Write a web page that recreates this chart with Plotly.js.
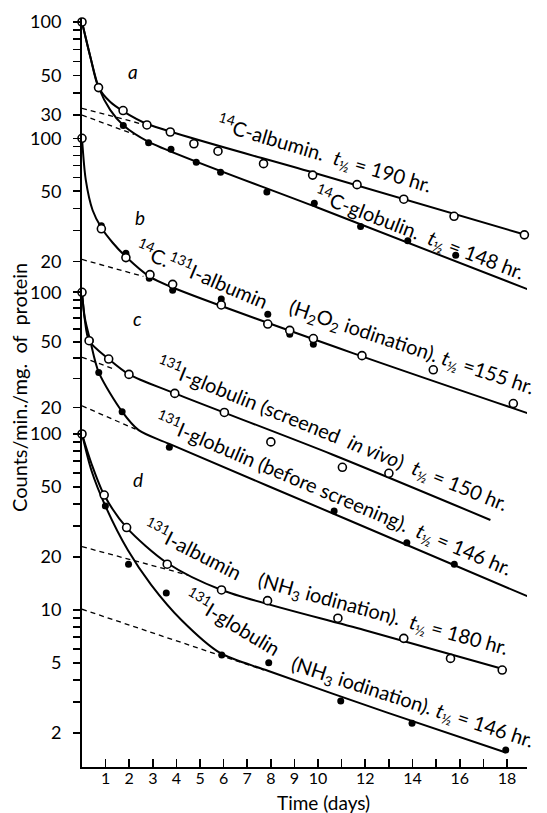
<!DOCTYPE html>
<html><head><meta charset="utf-8">
<script src="https://cdn.plot.ly/plotly-3.0.1.min.js"></script>
<style>html,body{margin:0;padding:0;background:#fff}</style>
</head><body><div id="chart" style="width:547px;height:813px"></div>
<script>
// ---------- DATA ----------
// Panel a: 14C-albumin (open) and 14C-globulin (filled)
const aAlbDays  = [0, 0.7, 1.74, 2.75, 3.74, 4.74, 5.76, 7.69, 9.77, 11.65, 13.63, 15.76, 18.74];
const aAlbVals  = [100, 42.8, 31.8, 26.4, 24.1, 20.7, 18.8, 16.0, 13.8, 12.2, 10.1, 8.1, 6.37];
const aGlobDays = [0, 0.7, 1.75, 2.82, 3.77, 4.84, 5.87, 7.83, 9.84, 11.8, 13.8, 15.83, 18.88];
const aGlobVals = [100, 42.8, 26.2, 21.0, 19.3, 16.3, 14.3, 11.1, 9.6, 7.1, 5.9, 4.89, 3.15];
const aAlbFitDays  = [0, 0.35, 0.7, 1.2, 1.75, 2.75, 10, 18.74];
const aAlbFitVals  = [100, 64, 43, 35.5, 31.5, 26.8, 14.0, 6.4];
const aGlobFitDays = [0, 0.35, 0.7, 1.2, 1.75, 2.8, 10, 18.88];
const aGlobFitVals = [100, 64, 43, 32, 26.3, 21.3, 9.04, 3.15];
const aAlbDashDays = [0, 2.6],  aAlbDashVals = [32.7, 26.6];
const aGlobDashDays = [0, 2.2], aGlobDashVals = [30.0, 23.4];

// Panel b: 14C.131I-albumin (H2O2 iodination)
const bOpenDays   = [0, 0.82, 1.86, 2.88, 3.84, 5.9, 7.87, 8.8, 9.8, 11.86, 14.88, 18.27];
const bOpenVals   = [100, 30.6, 21.0, 16.8, 14.8, 11.3, 8.8, 8.1, 7.28, 5.82, 4.84, 3.11];
const bFilledDays = [0, 0.82, 1.86, 2.85, 3.84, 5.9, 7.87, 8.8, 9.8];
const bFilledVals = [100, 31.9, 22.2, 16.0, 13.7, 12.2, 10.0, 7.7, 6.75];
const bFitDays = [0, 0.16, 0.45, 0.82, 1.3, 1.85, 2.88, 3.84, 11.5, 19.1];
const bFitVals = [100, 58, 39, 31, 25.5, 21.3, 16.3, 14.2, 6.0, 2.68];
const bDashDays = [0, 2.6], bDashVals = [20.5, 16.4];

// Panel c: 131I-globulin screened in vivo (open) and before screening (filled)
const cOpenDays   = [0, 0.3, 1.13, 1.99, 3.93, 6.03, 8.0, 11.03, 13.0];
const cOpenVals   = [100, 50.9, 39.4, 31.8, 24.4, 18.7, 12.4, 8.7, 8.0];
const cFilledDays = [0, 0.35, 0.71, 1.7, 3.7, 10.68, 13.76, 15.77, 18.86];
const cFilledVals = [100, 50.9, 32.7, 18.9, 11.5, 4.73, 3.03, 2.25, 1.44];
const cScrFitDays = [0, 0.12, 0.3, 1.13, 1.99, 3.93, 10.6, 17.3];
const cScrFitVals = [100, 68, 50.9, 39.4, 31.8, 24.4, 10.4, 4.17];
const cBefFitDays = [0, 0.12, 0.35, 0.71, 1.7, 2.4, 3.7, 11.28, 18.86];
const cBefFitVals = [100, 70, 50.9, 32.7, 18.9, 14.6, 12.05, 4.17, 1.44];
const cScrDashDays = [0, 1.35], cScrDashVals = [40.4, 34.3];
const cBefDashDays = [0, 2.27], cBefDashVals = [20.5, 14.8];

// Panel d: 131I-albumin (open) and 131I-globulin (filled), NH3 iodination
const dOpenDays   = [0, 0.94, 1.89, 3.61, 5.91, 7.86, 10.84, 13.63, 15.61, 17.8];
const dOpenVals   = [100, 45.0, 29.4, 18.2, 13.0, 11.3, 8.98, 6.9, 5.31, 4.56];
const dFilledDays = [0, 0.99, 1.97, 3.57, 5.92, 7.91, 10.96, 13.98, 17.95];
const dFilledVals = [100, 39.0, 18.2, 12.5, 5.55, 5.02, 3.04, 2.27, 1.60];
const dAlbFitDays  = [0, 0.4, 0.94, 1.89, 3.61, 5.91, 11.95, 17.98];
const dAlbFitVals  = [100, 68, 45, 29.4, 18.5, 13.0, 7.7, 4.56];
const dGlobFitDays = [0, 0.4, 0.99, 1.94, 2.93, 4.2, 5.85, 7.9, 12.9, 17.95];
const dGlobFitVals = [100, 62, 39, 21.9, 13.9, 8.8, 5.7, 4.5, 2.62, 1.55];
const dAlbDashDays  = [0, 4.49], dAlbDashVals  = [22.9, 15.8];
const dGlobDashDays = [0, 7.7],  dGlobDashVals = [10.1, 4.56];

// Tick values / labels
const xTickVals = [1,2,3,4,5,6,7,8,9,10,11,12,13,14,15,16,17,18];
const xTickText = ['1','2','3','4','5','6','7','8','9','10','','12','','14','','16','','18'];
const aTickVals = [100,90,80,70,60,50,40,30];
const aTickText = ['100','','','','','50','','30'];
const bcTickVals = [100,90,80,70,60,50,40,30,20];
const bcTickText = ['100','','','','','50','','','20'];
const dTickVals = [100,90,80,70,60,50,40,30,20,10,9,8,7,6,5,4,3,2];
const dTickText = ['100','','','','','50','','','20','10','','','','','5','','','2'];

// Text
const labels = {
  a1: "<sup>14</sup>C-albumin.  <i>t</i><sub>½</sub> = 190 hr.",
  a2: "<sup>14</sup>C-globulin.  <i>t</i><sub>½</sub> = 148 hr.",
  b1: "<sup>14</sup>C.<sup>131</sup>I-albumin",
  b2: "(H<sub>2</sub>O<sub>2</sub> iodination). <i>t</i><sub>½</sub> =155 hr.",
  c1: "<sup>131</sup>I-globulin (screened  <i>in vivo</i>)  <i>t</i><sub>½</sub> = 150 hr.",
  c2: "<sup>131</sup>I-globulin (before screening).  <i>t</i><sub>½</sub> = 146 hr.",
  d1: "<sup>131</sup>I-albumin",
  d2: "(NH<sub>3</sub> iodination).  <i>t</i><sub>½</sub> = 180 hr.",
  d3: "<sup>131</sup>I-globulin",
  d4: "(NH<sub>3</sub> iodination). <i>t</i><sub>½</sub> = 146 hr."
};
const yTitle = "Counts/min./mg.\u00a0\u00a0of\u00a0\u00a0protein";
const xTitle = "Time (days)";

// ---------- LAYOUT ----------
const W = 547, H = 813, ML = 82, MR = 20, MT = 10, MB = 46;
const plotW = W - ML - MR, plotH = H - MT - MB, bottomPx = H - MB;
const FONT = "Lato, 'Open Sans', sans-serif";
const LBL = 20;
const fx = px => (px - ML) / plotW;
const fy = py => (bottomPx - py) / plotH;

function yAx(topPx, refPx, scale, tv, tt) {
  return {
    type: 'log', anchor: 'x', domain: [0, fy(topPx)],
    range: [2 - (bottomPx - refPx) / scale, 2 + (refPx - topPx) / scale],
    showline: true, linecolor: '#000', linewidth: 2,
    showgrid: false, zeroline: false,
    tickmode: 'array', tickvals: tv, ticktext: tt,
    ticks: 'outside', ticklen: 7, tickwidth: 1.6, tickcolor: '#000',
    ticklabelstandoff: 8,
    tickfont: {family: FONT, size: 18, color: '#000'}
  };
}

const lineStyle = {color: '#000', width: 2, shape: 'spline', smoothing: 0.8};
const dashStyle = {color: '#000', width: 1.3, dash: '5px,4px'};
function fit(x, y, ya) { return {x, y, yaxis: ya, mode: 'lines', line: lineStyle, hoverinfo: 'skip'}; }
function dash(x, y, ya) { return {x, y, yaxis: ya, mode: 'lines', line: dashStyle, hoverinfo: 'skip'}; }
function openPts(x, y, ya) { return {x, y, yaxis: ya, mode: 'markers', cliponaxis: false,
  marker: {symbol: 'circle', size: 8, color: '#fff', line: {color: '#000', width: 1.6}}}; }
function fillPts(x, y, ya) { return {x, y, yaxis: ya, mode: 'markers', cliponaxis: false,
  marker: {symbol: 'circle', size: 7, color: '#000', line: {color: '#000', width: 0}}}; }

const data = [
  fit(aAlbFitDays, aAlbFitVals, 'y'), fit(aGlobFitDays, aGlobFitVals, 'y'),
  dash(aAlbDashDays, aAlbDashVals, 'y'), dash(aGlobDashDays, aGlobDashVals, 'y'),
  fillPts(aGlobDays, aGlobVals, 'y'), openPts(aAlbDays, aAlbVals, 'y'),

  fit(bFitDays, bFitVals, 'y2'), dash(bDashDays, bDashVals, 'y2'),
  fillPts(bFilledDays, bFilledVals, 'y2'), openPts(bOpenDays, bOpenVals, 'y2'),

  fit(cScrFitDays, cScrFitVals, 'y3'), fit(cBefFitDays, cBefFitVals, 'y3'),
  dash(cScrDashDays, cScrDashVals, 'y3'), dash(cBefDashDays, cBefDashVals, 'y3'),
  fillPts(cFilledDays, cFilledVals, 'y3'), openPts(cOpenDays, cOpenVals, 'y3'),

  fit(dAlbFitDays, dAlbFitVals, 'y4'), fit(dGlobFitDays, dGlobFitVals, 'y4'),
  dash(dAlbDashDays, dAlbDashVals, 'y4'), dash(dGlobDashDays, dGlobDashVals, 'y4'),
  fillPts(dFilledDays, dFilledVals, 'y4'), openPts(dOpenDays, dOpenVals, 'y4')
];

function ann(text, px, py, angle, size) {
  return {text, xref: 'paper', yref: 'paper', x: fx(px), y: fy(py),
    xanchor: 'center', yanchor: 'middle', showarrow: false, textangle: angle,
    font: {family: FONT, size: size, color: '#000'}};
}

const annotations = [
  ann('<i>a</i>', 133, 72, 0, 19), ann('<i>b</i>', 140, 217, 0, 19),
  ann('<i>c</i>', 137, 318, 0, 19), ann('<i>d</i>', 138, 480, 0, 19),
  ann(labels.a1, 324, 154, 16.5, LBL),
  ann(labels.a2, 419, 233, 21, LBL),
  ann(labels.b1, 202, 273, 23, LBL),
  ann(labels.b2, 411, 348, 18.5, LBL),
  ann(labels.c1, 332, 434, 22, LBL),
  ann(labels.c2, 333, 494, 23, LBL),
  ann(labels.d1, 193, 548, 27, LBL),
  ann(labels.d2, 383, 614, 15.5, LBL),
  ann(labels.d3, 233, 621, 31, LBL),
  ann(labels.d4, 412, 702, 18, LBL),
  ann(yTitle, 19, 388, -90, 20),
  ann(xTitle, 323, 802, 0, 19)
];

const layout = {
  width: W, height: H,
  margin: {l: ML, r: MR, t: MT, b: MB, pad: 0},
  paper_bgcolor: '#fff', plot_bgcolor: 'rgba(0,0,0,0)',
  showlegend: false,
  font: {family: FONT, size: 17, color: '#000'},
  xaxis: {
    anchor: 'y4', domain: [0, 1], range: [0, 18.85],
    showline: true, linecolor: '#000', linewidth: 2,
    showgrid: false, zeroline: false,
    tickmode: 'array', tickvals: xTickVals, ticktext: xTickText,
    ticks: 'inside', ticklen: 8, tickwidth: 1.6, tickcolor: '#000',
    ticklabelstandoff: -4,
    tickfont: {family: FONT, size: 16, color: '#000'}
  },
  yaxis:  yAx(18, 22, 178, aTickVals, aTickText),
  yaxis2: yAx(134, 138.3, 176, bcTickVals, bcTickText),
  yaxis3: yAx(288, 292.3, 165, bcTickVals, bcTickText),
  yaxis4: yAx(430, 434, 176, dTickVals, dTickText),
  annotations
};

Plotly.newPlot('chart', data, layout, {staticPlot: true, displayModeBar: false});
</script>
</body></html>
